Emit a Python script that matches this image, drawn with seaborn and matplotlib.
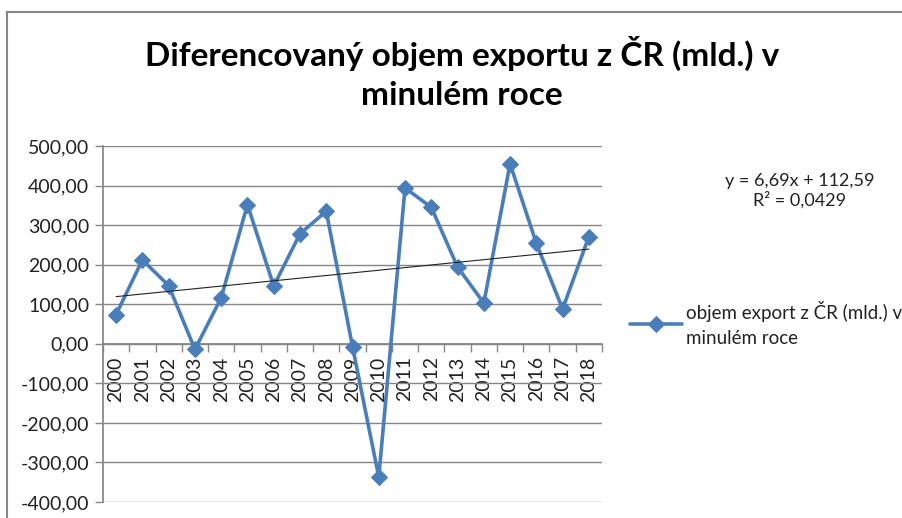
import numpy as np
import pandas as pd
import matplotlib
matplotlib.use("Agg")
import matplotlib.pyplot as plt
from matplotlib.patches import Rectangle
from matplotlib.ticker import FixedLocator, FixedFormatter
import seaborn as sns

years = ["2000", "2001", "2002", "2003", "2004", "2005", "2006", "2007", "2008", "2009",
         "2010", "2011", "2012", "2013", "2014", "2015", "2016", "2017", "2018"]
values = [74, 212, 147, -14, 116, 352, 146, 278, 335, -7,
          -337, 394, 345, 194, 103, 455, 254, 88, 271]
y_ticks = [-400, -300, -200, -100, 0, 100, 200, 300, 400, 500]
y_tick_labels = ["-400,00", "-300,00", "-200,00", "-100,00", "0,00",
                 "100,00", "200,00", "300,00", "400,00", "500,00"]
series_label = "objem export z ČR (mld.) v\nminulém roce"
title = "Diferencovaný objem exportu z ČR (mld.) v\nminulém roce"
equation = "y = 6,69x + 112,59\nR² = 0,0429"

sns.set_theme(style="white")
plt.rcParams["font.family"] = ["Lato", "DejaVu Sans"]

fig = plt.figure(figsize=(9.03, 5.18), dpi=100)
ax = fig.add_axes([103 / 903, 1 - 502 / 518, 499 / 903, 356 / 518])

df = pd.DataFrame({"pos": np.arange(len(years)), "value": values})
blue = "#4A7EBB"
sns.lineplot(data=df, x="pos", y="value", ax=ax, color=blue, linewidth=2.6,
             marker="D", markersize=8, markeredgecolor=blue, label=series_label,
             zorder=3)

# linear trendline (Excel style, x = 1..n)
xs = np.arange(1, len(values) + 1)
k, q = np.polyfit(xs, values, 1)
ax.plot(df["pos"], k * xs + q, color="#222222", linewidth=0.8, zorder=4)

ax.set_xlim(-0.5, len(years) - 0.5)
ax.set_ylim(-400, 500)
ax.yaxis.set_major_locator(FixedLocator(y_ticks))
ax.yaxis.set_major_formatter(FixedFormatter(y_tick_labels))
ax.grid(axis="y", color="#868686", linewidth=1)
ax.set_axisbelow(True)

ax.set_xticks(df["pos"])
ax.set_xticklabels(years)
ax.set_xticks(np.arange(-0.5, len(years)), minor=True)
ax.tick_params(axis="x", which="major", length=0, pad=9, labelrotation=90,
               labelsize=14, labelcolor="#222222")
ax.tick_params(axis="x", which="minor", length=6, width=1, color="#868686", direction="out", bottom=True)
ax.tick_params(axis="y", which="major", length=6, width=1, color="#868686", direction="out", left=True,
               labelsize=14, labelcolor="#222222", pad=4)

ax.spines["bottom"].set_position(("data", 0))
ax.spines["bottom"].set_color("#868686")
ax.spines["left"].set_color("#868686")
for s in ["top", "right"]:
    ax.spines[s].set_visible(False)
ax.set_xlabel("")
ax.set_ylabel("")

leg = ax.legend(loc="center left", bbox_to_anchor=(630 / 903, 1 - 324 / 518),
                bbox_transform=fig.transFigure, frameon=False, fontsize=13.5,
                handlelength=2.8, handletextpad=0.2, borderpad=0, borderaxespad=0)
for t in leg.get_texts():
    t.set_color("#222222")
    t.set_linespacing(1.5)

fig.text(800 / 903, 1 - 191 / 518, equation, ha="center", va="center",
         fontsize=13, color="#222222", linespacing=1.2)

fig.text(462 / 903, 1 - 73 / 518, title, ha="center", va="center",
         fontsize=24, fontweight="bold", color="black", linespacing=1.45)

fig.patches.append(Rectangle((7 / 903, -0.1), 1.2, 1 - 12 / 518 + 0.1,
                             transform=fig.transFigure, fill=False,
                             edgecolor="#868686", linewidth=1.5))

fig.savefig("out.png", dpi=100)
